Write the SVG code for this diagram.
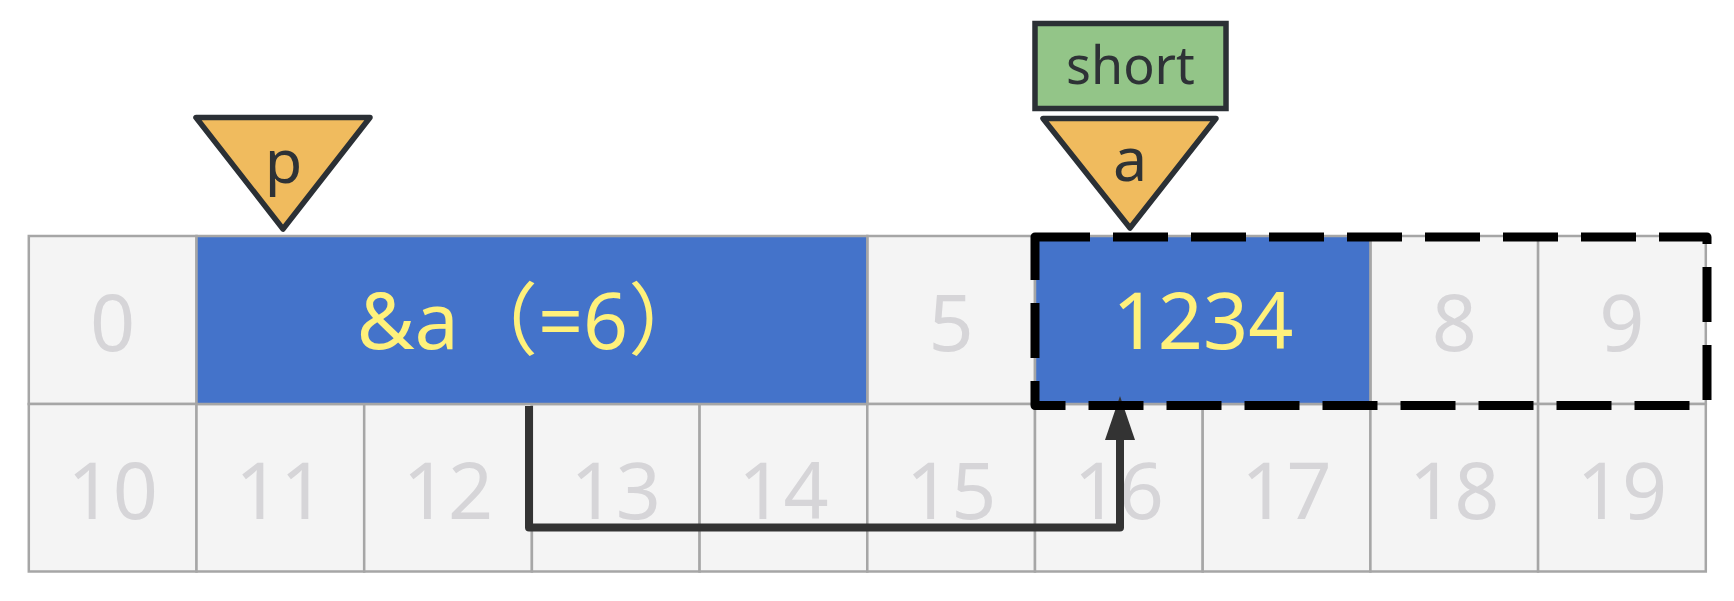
<svg xmlns="http://www.w3.org/2000/svg" width="1734" height="601" viewBox="0 0 1734 601">
<style>
.cell{fill:#F4F4F4;stroke:#A6A6A6;stroke-width:2.5}
.blue{fill:#4473CA;stroke:#A6A6A6;stroke-width:2.5}
.num{font-family:"Noto Sans","Noto Sans CJK SC",sans-serif;font-size:79px;fill:#D6D5D8;text-anchor:middle}
.val{font-family:"Noto Sans","Noto Sans CJK SC",sans-serif;font-size:79px;fill:#FFF17B;text-anchor:middle}
.tri{fill:#F0BB5E;stroke:#2B3035;stroke-width:5.5;stroke-linejoin:round}
.lbl{font-family:"Noto Sans","Noto Sans CJK SC",sans-serif;fill:#2E3236;text-anchor:middle}
.conn{fill:none;stroke:#333333;stroke-width:8;stroke-linejoin:round}
</style>
<rect width="1734" height="601" fill="#FFFFFF"/>
<g id="grid">
<rect class="cell" x="28.8" y="236" width="167.7" height="168"/>
<rect class="cell" x="867.3" y="236" width="167.7" height="168"/>
<rect class="cell" x="1370.4" y="236" width="167.7" height="168"/>
<rect class="cell" x="1538.1" y="236" width="167.7" height="168"/>
<rect class="cell" x="28.8" y="404" width="167.7" height="167.5"/>
<rect class="cell" x="196.5" y="404" width="167.7" height="167.5"/>
<rect class="cell" x="364.2" y="404" width="167.7" height="167.5"/>
<rect class="cell" x="531.9" y="404" width="167.7" height="167.5"/>
<rect class="cell" x="699.6" y="404" width="167.7" height="167.5"/>
<rect class="cell" x="867.3" y="404" width="167.7" height="167.5"/>
<rect class="cell" x="1035" y="404" width="167.7" height="167.5"/>
<rect class="cell" x="1202.7" y="404" width="167.7" height="167.5"/>
<rect class="cell" x="1370.4" y="404" width="167.7" height="167.5"/>
<rect class="cell" x="1538.1" y="404" width="167.7" height="167.5"/>
<text class="num" x="112.65" y="351">0</text>
<text class="num" x="951.15" y="351">5</text>
<text class="num" x="1454.25" y="351">8</text>
<text class="num" x="1621.95" y="351">9</text>
<text class="num" x="112.65" y="519">10</text>
<text class="num" x="280.35" y="519">11</text>
<text class="num" x="448.05" y="519">12</text>
<text class="num" x="615.75" y="519">13</text>
<text class="num" x="783.45" y="519">14</text>
<text class="num" x="951.15" y="519">15</text>
<text class="num" x="1118.85" y="519">16</text>
<text class="num" x="1286.55" y="519">17</text>
<text class="num" x="1454.25" y="519">18</text>
<text class="num" x="1621.95" y="519">19</text>
</g>
<g id="block-p-value">
<rect class="blue" x="196.5" y="236" width="670.8" height="168"/>
<text class="val" x="532" y="349">&amp;a（=6）</text>
</g>
<g id="block-a-value">
<rect class="blue" x="1035" y="236" width="335.4" height="168"/>
<text class="val" x="1203" y="349">1234</text>
</g>
<g id="pointer-p">
<polygon class="tri" points="196,117.5 370,117.5 283,229"/>
<text class="lbl" x="283.5" y="183" font-size="61">p</text>
</g>
<g id="pointer-a">
<polygon class="tri" points="1043,118.5 1216,118.5 1130,228"/>
<text class="lbl" x="1130" y="181" font-size="61">a</text>
</g>
<g id="type-short">
<rect x="1035" y="23.5" width="191" height="85" fill="#93C588" stroke="#2B3035" stroke-width="5.5"/>
<text class="lbl" x="1130.5" y="84" font-size="52">short</text>
</g>
<g id="connectors">
<path class="conn" d="M529,406 V527.5 H1120 V438"/>
<polygon points="1120,396 1105,440 1135,440" fill="#333333"/>
</g>
<g id="span-a">
<rect x="1035" y="237" width="672" height="168.5" fill="none" stroke="#000000" stroke-width="9" stroke-dasharray="55 23" stroke-linejoin="round"/>
</g>
</svg>
